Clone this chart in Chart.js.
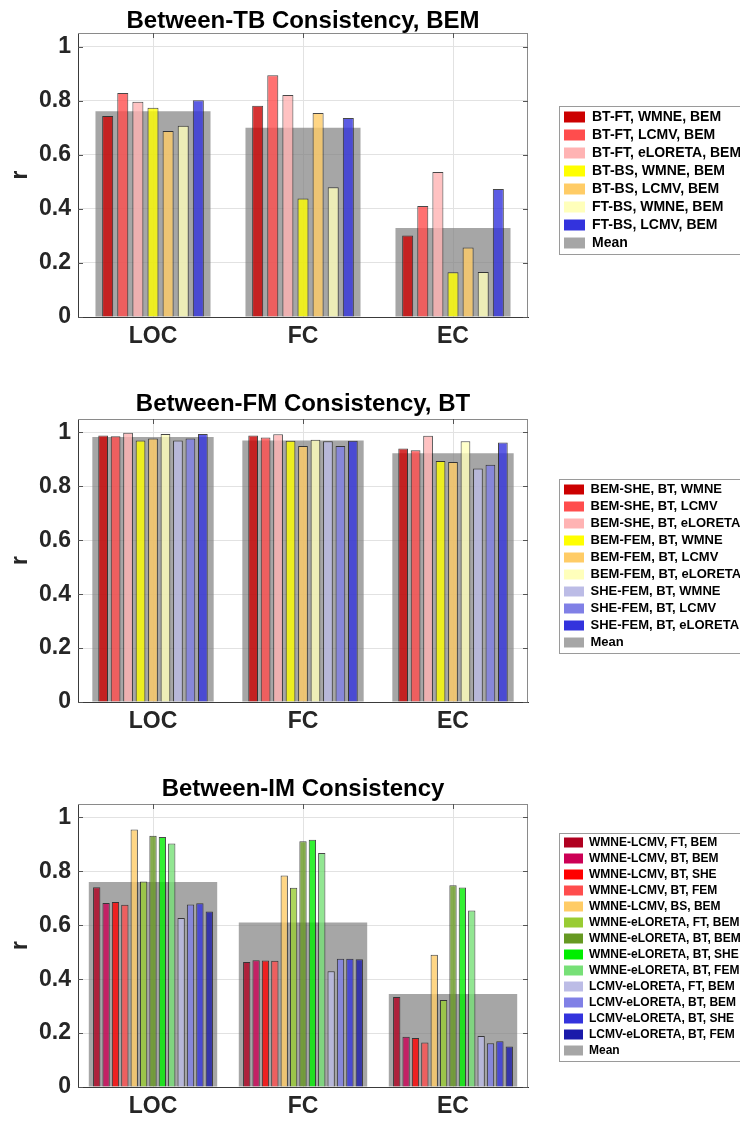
<!DOCTYPE html>
<html>
<head>
<meta charset="utf-8">
<script src="https://cdn.jsdelivr.net/npm/chart.js@4.4.1/dist/chart.umd.min.js"></script>
<style>
  html, body { margin: 0; padding: 0; background: #fff; overflow: hidden; }
  body { width: 740px; height: 1122px; position: relative; }
  canvas { position: absolute; left: 0; }
</style>
</head>
<body>
<canvas id="tbChart" width="740" height="360" style="top:0px;width:740px;height:360px"></canvas>
<canvas id="fmChart" width="740" height="360" style="top:386px;width:740px;height:360px"></canvas>
<canvas id="imChart" width="740" height="351" style="top:771px;width:740px;height:351px"></canvas>
<script>
// --- Data ---

const REGIONS = ['LOC', 'FC', 'EC'];
const Y_TICKS = [0, 0.2, 0.4, 0.6, 0.8, 1];
const Y_TICK_LABELS = ['0', '0.2', '0.4', '0.6', '0.8', '1'];

// Between-TB consistency, BEM (values per region: LOC, FC, EC)
const tbLabels = ['BT-FT, WMNE, BEM', 'BT-FT, LCMV, BEM', 'BT-FT, eLORETA, BEM', 'BT-BS, WMNE, BEM',
                  'BT-BS, LCMV, BEM', 'FT-BS, WMNE, BEM', 'FT-BS, LCMV, BEM'];
const tbValues = [
    [0.743, 0.781, 0.301],
    [0.828, 0.894, 0.410],
    [0.796, 0.821, 0.536],
    [0.774, 0.438, 0.165],
    [0.688, 0.754, 0.257],
    [0.707, 0.480, 0.166],
    [0.801, 0.736, 0.473]
];
const tbMean = [0.761, 0.700, 0.329];
const tbColors = ['#cc0000', '#ff4d4d', '#ffb3b3', '#ffff00', '#ffcc66', '#ffffbb', '#3333dd'];

// Between-FM consistency, BT
const fmLabels = ['BEM-SHE, BT, WMNE', 'BEM-SHE, BT, LCMV', 'BEM-SHE, BT, eLORETA', 'BEM-FEM, BT, WMNE',
                  'BEM-FEM, BT, LCMV', 'BEM-FEM, BT, eLORETA', 'SHE-FEM, BT, WMNE', 'SHE-FEM, BT, LCMV',
                  'SHE-FEM, BT, eLORETA'];
const fmValues = [
    [0.989, 0.989, 0.941],
    [0.986, 0.981, 0.934],
    [0.999, 0.993, 0.988],
    [0.970, 0.969, 0.894],
    [0.978, 0.950, 0.890],
    [0.994, 0.973, 0.967],
    [0.970, 0.967, 0.866],
    [0.978, 0.950, 0.880],
    [0.994, 0.969, 0.963]
];
const fmMean = [0.983, 0.970, 0.923];
const fmColors = ['#cc0000', '#ff4d4d', '#ffb3b3', '#ffff00', '#ffcc66', '#ffffbb', '#bcbce6', '#8080e6', '#3333dd'];

// Between-IM consistency
const imLabels = ['WMNE-LCMV, FT, BEM', 'WMNE-LCMV, BT, BEM', 'WMNE-LCMV, BT, SHE', 'WMNE-LCMV, BT, FEM',
                  'WMNE-LCMV, BS, BEM', 'WMNE-eLORETA, FT, BEM', 'WMNE-eLORETA, BT, BEM', 'WMNE-eLORETA, BT, SHE',
                  'WMNE-eLORETA, BT, FEM', 'LCMV-eLORETA, FT, BEM', 'LCMV-eLORETA, BT, BEM',
                  'LCMV-eLORETA, BT, SHE', 'LCMV-eLORETA, BT, FEM'];
const imValues = [
    [0.741, 0.464, 0.334],
    [0.683, 0.470, 0.186],
    [0.686, 0.469, 0.182],
    [0.676, 0.468, 0.165],
    [0.955, 0.785, 0.491],
    [0.762, 0.739, 0.323],
    [0.932, 0.912, 0.749],
    [0.928, 0.917, 0.740],
    [0.903, 0.868, 0.655],
    [0.627, 0.429, 0.189],
    [0.677, 0.476, 0.162],
    [0.682, 0.476, 0.170],
    [0.651, 0.474, 0.150]
];
const imMean = [0.761, 0.610, 0.345];
const imColors = ['#b00020', '#cc0055', '#ff0000', '#ff4d4d', '#ffcc66', '#99cc33', '#669922', '#00ee00',
                  '#77e077', '#bcbce6', '#8080e6', '#3333dd', '#1a1aaa'];

// --- Chart helpers ---

Chart.defaults.font.family = '"Liberation Sans", Arial, sans-serif';

function withAlpha(hex, a) {
    const n = parseInt(hex.slice(1), 16);
    return `rgba(${(n >> 16) & 255}, ${(n >> 8) & 255}, ${n & 255}, ${a})`;
}

// MATLAB-like box: top/right frame lines, inward ticks, legend border
const framePlugin = {
    id: 'matlabFrame',
    afterDatasetsDraw(chart) {
        const { ctx, chartArea: a, scales } = chart;
        ctx.save();
        ctx.lineWidth = 1;
        ctx.strokeStyle = '#8a8a8a';
        ctx.beginPath();
        ctx.moveTo(a.left, a.top + 0.5);
        ctx.lineTo(a.right, a.top + 0.5);
        ctx.moveTo(a.right - 0.5, a.top);
        ctx.lineTo(a.right - 0.5, a.bottom);
        ctx.stroke();

        ctx.strokeStyle = '#555';
        ctx.beginPath();
        scales.x.ticks.forEach((t, i) => {
            const x = Math.round(scales.x.getPixelForTick(i)) + 0.5;
            ctx.moveTo(x, a.top);
            ctx.lineTo(x, a.top + 5);
        });
        scales.y.ticks.forEach(t => {
            const y = Math.round(scales.y.getPixelForValue(t.value)) + 0.5;
            ctx.moveTo(a.left, y);
            ctx.lineTo(a.left + 5, y);
            ctx.moveTo(a.right, y);
            ctx.lineTo(a.right - 5, y);
        });
        ctx.stroke();
        ctx.restore();
    },
    afterDraw(chart) {
        const boxes = chart.legend && chart.legend.legendHitBoxes;
        if (!boxes || !boxes.length) return;
        const first = boxes[0];
        const last = boxes[boxes.length - 1];
        const { ctx } = chart;
        ctx.save();
        ctx.strokeStyle = '#9a9a9a';
        ctx.lineWidth = 1;
        const left = Math.round(first.left - 5) + 0.5;
        const top = Math.round(first.top - 4) + 0.5;
        const bottom = Math.round(last.top + last.height + 4) + 0.5;
        ctx.strokeRect(left, top, chart.width + 10, bottom - top);
        ctx.restore();
    }
};

function buildChart(canvasId, cfg) {
    const datasets = cfg.labels.map((name, i) => ({
        label: name,
        data: cfg.values[i],
        backgroundColor: withAlpha(cfg.colors[i], 0.8),
        legendColor: cfg.colors[i],
        borderColor: 'rgba(25, 25, 25, 0.8)',
        borderWidth: 1,
        categoryPercentage: cfg.catPct,
        barPercentage: cfg.barPct,
        yAxisID: 'y'
    }));
    // Mean drawn last in the list, so it sits behind the grouped bars
    datasets.push({
        label: 'Mean',
        data: cfg.mean,
        backgroundColor: 'rgba(128, 128, 128, 0.7)',
        legendColor: '#a6a6a6',
        borderWidth: 0,
        grouped: false,
        categoryPercentage: 1,
        barPercentage: cfg.meanPct,
        yAxisID: 'y'
    });

    const tickFont = { size: 23, weight: 'bold' };

    return new Chart(document.getElementById(canvasId), {
        type: 'bar',
        data: { labels: REGIONS, datasets },
        options: {
            responsive: false,
            animation: false,
            layout: { padding: 0 },
            scales: {
                x: {
                    afterFit: s => { s.height = cfg.xAxisHeight; },
                    grid: { color: '#e2e2e2', offset: false, drawTicks: false },
                    border: { color: '#3a3a3a', width: 1 },
                    ticks: { padding: 6, color: '#262626', font: tickFont }
                },
                y: {
                    min: 0,
                    max: 1.05,
                    afterBuildTicks: s => { s.ticks = Y_TICKS.map(v => ({ value: v })); },
                    afterFit: s => { s.width = 78; },
                    grid: { color: '#e2e2e2', drawTicks: false },
                    border: { color: '#3a3a3a', width: 1 },
                    ticks: {
                        padding: 7, color: '#262626', font: tickFont,
                        callback: (v, i) => Y_TICK_LABELS[i]
                    },
                    title: {
                        display: true, text: 'r', color: '#262626',
                        font: { size: 23, weight: 'bold' },
                        padding: { top: 7, bottom: 0 }
                    }
                },
                yR: {
                    position: 'right',
                    min: 0,
                    max: 1.05,
                    afterFit: s => { s.width = 32; },
                    grid: { display: false, drawTicks: false },
                    border: { display: false },
                    ticks: { display: false }
                }
            },
            plugins: {
                title: {
                    display: true,
                    text: cfg.title,
                    fullSize: false,
                    color: '#000',
                    font: { size: 24, weight: 'bold', lineHeight: 1 },
                    padding: cfg.titlePad
                },
                legend: {
                    position: 'right',
                    maxWidth: 180,
                    labels: {
                        color: '#000',
                        font: { size: cfg.legendFont, weight: 'bold' },
                        boxWidth: cfg.boxW,
                        boxHeight: cfg.boxH,
                        padding: 4,
                        generateLabels(chart) {
                            const items = Chart.defaults.plugins.legend.labels.generateLabels(chart);
                            items.forEach(it => {
                                const ds = chart.data.datasets[it.datasetIndex];
                                it.fillStyle = ds.legendColor;
                                it.strokeStyle = ds.legendColor;
                                it.lineWidth = 0;
                            });
                            return items;
                        }
                    }
                },
                tooltip: { enabled: false }
            }
        },
        plugins: [framePlugin]
    });
}

// --- Entry Point ---

buildChart('tbChart', {
    title: 'Between-TB Consistency, BEM',
    labels: tbLabels, values: tbValues, mean: tbMean, colors: tbColors,
    catPct: 0.705, barPct: 0.73, meanPct: 0.767,
    xAxisHeight: 43, titlePad: { top: 9, bottom: 0 },
    legendFont: 14, boxW: 21, boxH: 11
});

buildChart('fmChart', {
    title: 'Between-FM Consistency, BT',
    labels: fmLabels, values: fmValues, mean: fmMean, colors: fmColors,
    catPct: 0.748, barPct: 0.78, meanPct: 0.809,
    xAxisHeight: 44, titlePad: { top: 6, bottom: 3 },
    legendFont: 13, boxW: 20, boxH: 10
});

buildChart('imChart', {
    title: 'Between-IM Consistency',
    labels: imLabels, values: imValues, mean: imMean, colors: imColors,
    catPct: 0.813, barPct: 0.78, meanPct: 0.856,
    xAxisHeight: 35, titlePad: { top: 6, bottom: 3 },
    legendFont: 12, boxW: 19, boxH: 10
});
</script>
</body>
</html>
